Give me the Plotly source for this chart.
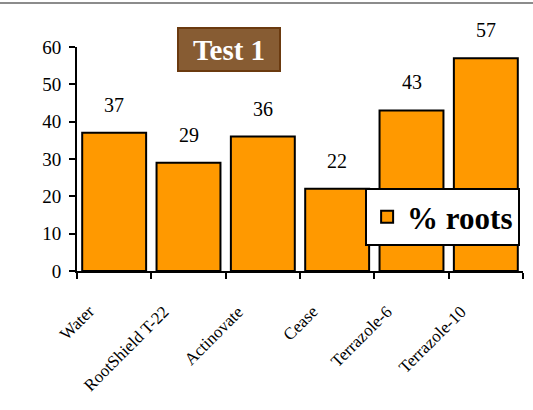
import plotly.graph_objects as go

categories = ["Water", "RootShield T-22", "Actinovate", "Cease", "Terrazole-6", "Terrazole-10"]
values = [37, 29, 36, 22, 43, 57]
value_labels = ["37", "29", "36", "22", "43", "57"]
series_name = "% roots"
title_text = "Test 1"
y_ticks = [0, 10, 20, 30, 40, 50, 60]

SERIF = "Liberation Serif"

fig = go.Figure()
fig.add_trace(go.Bar(
    x=categories, y=values, name=series_name,
    marker=dict(color="#FF9900", line=dict(color="black", width=2)),
    showlegend=True,
))

# data labels above bars
for c, v, t in zip(categories, values, value_labels):
    fig.add_annotation(x=c, y=v, text=t, showarrow=False, yshift=28,
                       font=dict(family=SERIF, size=20, color="black"))

# rotated category labels (Excel-style placement)
for c in categories:
    fig.add_annotation(x=c, y=0, xref="x", yref="y", text=c, showarrow=False, textangle=-45,
                       xanchor="right", yanchor="top", xshift=-13, yshift=-28,
                       font=dict(family=SERIF, size=17, color="black"))

fig.add_annotation(xref="paper", yref="paper", x=0.341, y=0.989, text="<b>" + title_text + "</b>",
                   showarrow=False, font=dict(family=SERIF, size=29, color="white"),
                   bgcolor="#875C33", bordercolor="#6B3A0F", borderwidth=2,
                   width=100, height=41, borderpad=0, xanchor="center", yanchor="middle")

fig.add_shape(type="line", xref="paper", yref="paper", x0=-0.2, x1=1.1, y0=1.196, y1=1.196,
              line=dict(color="#666666", width=1.5))

fig.update_layout(
    width=533, height=410,
    margin=dict(l=77, r=10, t=47, b=139),
    plot_bgcolor="white", paper_bgcolor="white",
    bargap=0.14,
    font=dict(family=SERIF, color="black"),
    legend=dict(x=0.646, y=0.37, xanchor="left", yanchor="top",
                bgcolor="white", bordercolor="black", borderwidth=2,
                font=dict(family=SERIF, size=31, color="black", weight="bold"),
                itemsizing="constant"),
    xaxis=dict(type="category", range=[-0.5, len(categories) - 0.5], autorange=False,
               tickson="boundaries", ticks="outside", ticklen=6,
               tickwidth=2, tickcolor="black", showline=True, linecolor="black", linewidth=2,
               showticklabels=False, showgrid=False),
    yaxis=dict(range=[0, 60], autorange=False, tickvals=y_ticks, ticks="outside", ticklen=6, tickwidth=2,
               tickcolor="black", showline=True, linecolor="black", linewidth=2,
               tickfont=dict(family=SERIF, size=19, color="black"), showgrid=False,
               zeroline=False, ticklabelstandoff=4),
)

fig.write_html("out.html")
